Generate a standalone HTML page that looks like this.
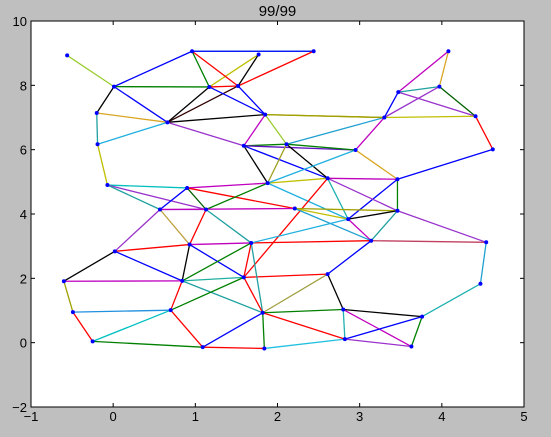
<!DOCTYPE html>
<html><head><meta charset="utf-8"><style>
html,body{margin:0;padding:0;background:#bfbfbf;}
svg{display:block;font-family:"Liberation Sans",sans-serif;}
</style></head><body>
<svg id="chart" width="551" height="437" viewBox="0 0 551 437"></svg>
<script>
const nodeNames=["A","B","C","D","E","F","G","H","I","J","K","L","M","N","O","P","Q","R","S","T","U","V","W","X","Y","Z","AA","AB","AC","AD","AE","AF","AG","AH","AI","AJ","AK","AL","AM","AN","AO","AP","AQ","AR","AS","AT","AU","AV","AW","AX"];
const nodeX=[-0.56,0.96,2.44,1.77,4.08,0.01,1.17,1.52,3.97,3.47,-0.2,0.66,1.85,3.30,4.41,-0.19,1.59,2.11,2.95,4.62,-0.07,0.90,1.88,2.61,3.46,0.57,1.13,2.21,2.86,3.46,0.93,1.68,3.14,4.54,0.02,1.59,2.61,-0.60,0.84,4.47,-0.49,0.70,1.82,2.80,3.76,-0.25,1.09,1.84,2.82,3.63];
const nodeY=[8.93,9.06,9.06,8.96,9.06,7.96,7.95,7.98,7.96,7.79,7.14,6.85,7.09,7.0,7.04,6.17,6.12,6.17,5.99,6.01,4.9,4.81,4.96,5.11,5.08,4.14,4.14,4.17,3.84,4.10,3.05,3.10,3.17,3.12,2.84,2.03,2.13,1.91,1.92,1.83,0.95,1.01,0.93,1.03,0.81,0.04,-0.14,-0.18,0.11,-0.12];
const edgeFrom=["A","F","B","B","D","B","B","D","H","F","G","F","F","K","K","L","L","L","L","H","G","L","P","M","M","M","Q","Q","Q","Q","R","R","R","U","U","U","V","V","V","V","W","W","W","Z","Z","Z","Z","AA","AA","E","E","I","I","J","I","J","N","O","N","T","S","S","R","X","Y","Y","X","X","X","S","AB","AB","AC","AC","AD","AD","AB","AF","AG","AG","AH","AN","AK","AK","AK","AR","AR","AR","AS","AS","AW","AW","AQ","AQ","AI","AI","AI","AE","AE","AE","AF","AF","AF","AF","AL","AL","AM","AM","AM","AJ","AJ","AO","AO","AT","AT","AP","AU","AU","AQ"];
const edgeTo=  ["F","B","C","C","G","G","H","H","C","G","H","K","L","L","P","P","G","H","M","M","M","Q","U","Q","R","N","R","S","X","W","W","X","N","V","AA","Z","W","AB","AA","Z","AA","X","AC","AA","AB","AE","AI","AE","AF","J","I","J","O","O","N","N","O","T","M","Y","Y","N","S","Y","AD","AC","AD","AC","AJ","W","AD","AC","AD","AG","AG","AH","AG","AG","AH","AK","AN","AS","AJ","AR","AQ","AS","AW","AX","AX","AW","AX","AV","AR","AW","AE","AM","AL","AM","AF","AJ","AJ","AM","AQ","AC","AM","AO","AJ","AQ","AP","AP","AQ","AP","AT","AP","AU","AU","AQ","AV","AV"];
const edgeColor=["#9acd32","#0000ff","#00bfbf","#0000ff","#bfbf00","#008000","#ff0000","#000000","#ff0000","#008000","#ff0000","#000000","#0000ff","#daa520","#20a0a0","#20b0e0","#000000","#300000","#000000","#0000ff","#0000ff","#9932cc","#bfbf00","#bf00bf","#9acd32","#a0a000","#008000","#6010c0","#0000ff","#000000","#a0a020","#000000","#20a0d0","#00bfbf","#9932cc","#20a0a0","#bf00bf","#ff0000","#006000","#0000ff","#008000","#bfbf00","#20b0e0","#9932cc","#bf00bf","#c0a040","#9932cc","#ff0000","#20a0a0","#bf00bf","#daa520","#20a0a0","#006000","#9932cc","#9932cc","#0000ff","#bfbf00","#ff0000","#a0a000","#0000ff","#daa520","#bf00bf","#008000","#bf00bf","#008000","#0000ff","#9932cc","#20b0b0","#ff0000","#20b0e0","#a0a000","#bfbf00","#000000","#bf00bf","#20a0a0","#9932cc","#20a0d0","#ff0000","#c04060","#0000ff","#20a0d0","#20b0b0","#ff0000","#000000","#a0a040","#000000","#20b0b0","#bf00bf","#008000","#0000ff","#9932cc","#20c0e0","#008000","#ff0000","#ff0000","#0000ff","#000000","#000000","#bf00bf","#0000ff","#ff0000","#008000","#20a0a0","#20b0e0","#bf00bf","#a0a000","#20b0a0","#20a0a0","#ff0000","#008000","#ff0000","#2090e0","#ff0000","#00c0c0","#008000","#ff0000","#0000ff","#ff0000","#008000"];
const xTicks=[-1,0,1,2,3,4,5];
const yTicks=[-2,0,2,4,6,8,10];
const NS="http://www.w3.org/2000/svg";
const svg=document.getElementById("chart");
const L=31,R=524,T=21,B=407;
const xMin=-1,xMax=5,yMin=-2,yMax=10;
function sx(v){return L+(v-xMin)/(xMax-xMin)*(R-L);}
function sy(v){return B-(v-yMin)/(yMax-yMin)*(B-T);}
function mk(tag,attrs){const e=document.createElementNS(NS,tag);for(const k in attrs)e.setAttribute(k,attrs[k]);svg.appendChild(e);return e;}
let bg=mk("rect",{x:L,y:T,width:R-L,height:B-T,fill:"#fff"});


let title=mk("text",{x:(L+R)/2,y:16,"text-anchor":"middle","font-size":"15"});
title.textContent="99/99";


const idx={};nodeNames.forEach((n,i)=>idx[n]=i);
for(let i=0;i<edgeFrom.length;i++){
  const a=idx[edgeFrom[i]],b=idx[edgeTo[i]];
  const ln=mk("line",{x1:sx(nodeX[a]),y1:sy(nodeY[a]),x2:sx(nodeX[b]),y2:sy(nodeY[b]),stroke:edgeColor[i],"stroke-width":"1.3"});
  
  
}
for(let i=0;i<nodeNames.length;i++){
  const c=mk("circle",{cx:sx(nodeX[i]),cy:sy(nodeY[i]),r:2,fill:"#0000ff"});
  
  
}
let fr=mk("rect",{x:L,y:T,width:R-L,height:B-T,fill:"none",stroke:"#000","stroke-width":"1"});


xTicks.forEach(v=>{
  const x=sx(v);
  mk("line",{x1:x,y1:B,x2:x,y2:B-4,stroke:"#000"});
  mk("line",{x1:x,y1:T,x2:x,y2:T+4,stroke:"#000"});
  const t=mk("text",{x:x,y:B+14,"text-anchor":"middle","font-size":"13"});
  t.textContent=v<0?"\u2212"+Math.abs(v):String(v);
  
  
});
yTicks.forEach(v=>{
  const y=sy(v);
  mk("line",{x1:L,y1:y,x2:L+4,y2:y,stroke:"#000"});
  mk("line",{x1:R,y1:y,x2:R-4,y2:y,stroke:"#000"});
  const t=mk("text",{x:L-4,y:y+5,"text-anchor":"end","font-size":"13"});
  t.textContent=v<0?"\u2212"+Math.abs(v):String(v);
  
  
});
</script>
</body></html>
